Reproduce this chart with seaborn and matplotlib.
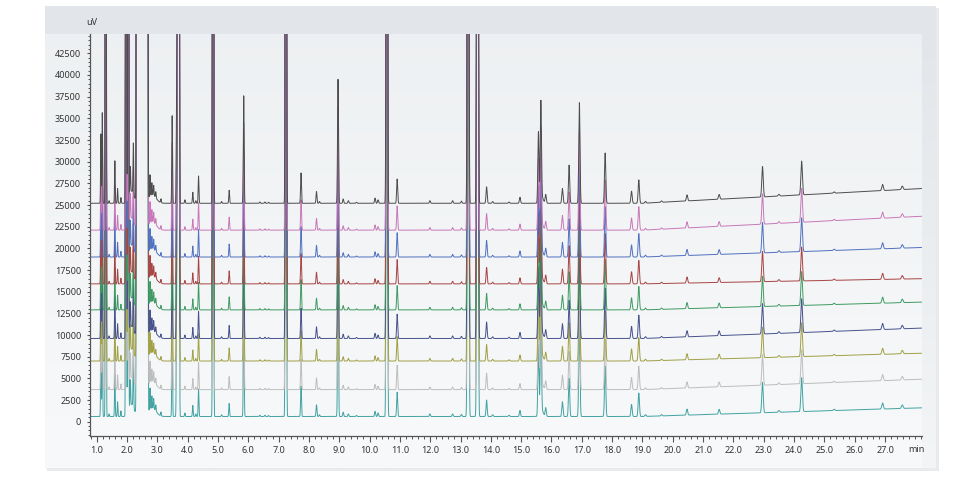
import matplotlib
matplotlib.use('Agg')
import matplotlib.pyplot as plt
import numpy as np
import pandas as pd
import seaborn as sns
from matplotlib.colors import LinearSegmentedColormap
from matplotlib.patches import Rectangle
from matplotlib.ticker import MultipleLocator

# nine overlaid runs, listed from the top trace down
RUN_NAMES = ['run 1', 'run 2', 'run 3', 'run 4', 'run 5', 'run 6', 'run 7', 'run 8', 'run 9']
RUN_COLORS = ['#4d4d4d', '#c878b8', '#5070c0', '#a84444', '#3f9a62',
              '#47528c', '#a0a044', '#bdbdbd', '#42a2a2']
RUN_BASELINES = [25200, 22100, 19000, 15900, 12900, 9600, 7000, 3700, 600]
RUN_DRIFTS = [1700, 1600, 1100, 600, 900, 1200, 900, 1200, 1000]

# sharp peaks (min, uV above baseline); very large values run off the top
PEAK_TIMES = [1.14, 1.185, 1.30, 1.41, 1.60, 1.69, 1.80, 1.97, 2.04, 2.11, 2.21,
              2.33, 2.67, 2.76, 2.82, 2.88, 2.95, 3.12,
              3.49, 3.64, 3.68, 3.71, 3.91, 4.17, 4.27, 4.36, 4.84, 5.12, 5.37,
              5.85, 6.38, 6.55, 6.67, 7.24, 7.74, 8.25, 8.35, 8.96, 9.13, 9.30,
              9.57, 10.18, 10.28, 10.57, 10.91, 11.99, 12.74, 13.03, 13.25, 13.56,
              13.86, 14.06, 14.60, 14.96, 15.57, 15.65, 15.81, 16.36, 16.58, 16.92,
              17.77, 18.64, 18.88, 19.10, 19.63, 20.47, 21.53, 22.96, 23.50, 24.25,
              25.32, 26.92, 27.57]
PEAK_HEIGHTS = [8000, 10500, 200000, 300, 4900, 1700, 650, 200000, 200000, 3000, 5900,
                1000000, 1000000, 2600, 1500, 1200, 700, 450,
                10100, 15500, 200000, 200000, 400, 1270, 300, 3150, 200000, 200, 1500,
                12400, 150, 150, 120, 200000, 3500, 1350, 200, 14300, 500, 300,
                120, 600, 400, 200000, 2800, 300, 300, 250, 200000, 200000,
                1900, 200, 150, 700, 8200, 11300, 1000, 1700, 4400, 11600,
                5800, 1400, 2700, 200, 150, 700, 550, 3500, 200, 3900,
                150, 700, 400]

# broad humps: solvent front (runs off the top) and shoulders
HUMP_TIMES = [2.15, 2.50, 2.85, 15.68]
HUMP_HEIGHTS = [1400, 5000000, 900, 700]
HUMP_WIDTHS = [0.08, 0.05, 0.12, 0.05]

X_TICKS = np.arange(1, 28)
Y_TICKS = np.arange(0, 42501, 2500)


def build_traces():
    t = np.arange(0.78, 28.21, 0.002)
    peaks = np.zeros_like(t)
    for t0, h in zip(PEAK_TIMES, PEAK_HEIGHTS):
        s = 0.010 + 0.0006 * t0
        peaks += h * np.exp(-0.5 * ((t - t0) / s) ** 2)
    for t0, h, s in zip(HUMP_TIMES, HUMP_HEIGHTS, HUMP_WIDTHS):
        peaks += h * np.exp(-0.5 * ((t - t0) / s) ** 2)
    ramp = np.clip((t - 19.0) / (28.2 - 19.0), 0, 1)

    frames = []
    for name, base, drift in zip(RUN_NAMES, RUN_BASELINES, RUN_DRIFTS):
        frames.append(pd.DataFrame({'time': t, 'signal': base + drift * ramp + peaks, 'run': name}))
    return pd.concat(frames, ignore_index=True)


def gradient(ax, extent, top, bottom, zorder):
    cmap = LinearSegmentedColormap.from_list('g', [top, bottom])
    ax.imshow(np.linspace(0, 1, 256).reshape(-1, 1), extent=extent, cmap=cmap,
              aspect='auto', origin='upper', interpolation='bilinear', zorder=zorder)


def main():
    sns.set_theme(style='white')
    plt.rcParams['font.family'] = ['Noto Sans', 'DejaVu Sans']

    fig = plt.figure(figsize=(9.65, 4.92), dpi=100)
    fig.patch.set_facecolor('white')

    # panel behind the chart, drawn in pixel coordinates
    bg = fig.add_axes([0, 0, 1, 1], zorder=0)
    bg.add_patch(Rectangle((47, 8), 892, 463, color='#e9eaeb', lw=0, zorder=0))
    gradient(bg, (45, 936, 468, 6), '#edf0f2', '#f8f9fa', zorder=1)
    bg.add_patch(Rectangle((45, 6), 891, 27.5, color='#e2e6ea', lw=0, zorder=2))
    gradient(bg, (922, 936, 468, 33.5), '#e2e6ea', '#f3f5f6', zorder=2)
    bg.set_xlim(0, 965)
    bg.set_ylim(492, 0)
    bg.axis('off')

    ax = fig.add_axes([90 / 965, 56 / 492, 832 / 965, 402 / 492], zorder=1)
    ax.set_facecolor('none')

    df = build_traces()
    sns.lineplot(data=df, x='time', y='signal', hue='run', hue_order=RUN_NAMES[::-1],
                 palette=RUN_COLORS[::-1], estimator=None, sort=False,
                 linewidth=0.7, legend=False, ax=ax)

    ax.set_xlim(0.78, 28.22)
    ax.set_ylim(-1650, 44730)
    ax.set_xlabel('')
    ax.set_ylabel('')

    ax.set_xticks(X_TICKS)
    ax.set_xticklabels([f'{v:.1f}' for v in X_TICKS])
    ax.xaxis.set_minor_locator(MultipleLocator(0.2))
    ax.set_yticks(Y_TICKS)
    ax.set_yticklabels([f'{v}' for v in Y_TICKS])
    ax.yaxis.set_minor_locator(MultipleLocator(500))

    ax.tick_params(axis='x', which='major', direction='out', length=4, width=0.8,
                   color='#555555', labelsize=6.5, labelcolor='#333333', pad=3.5, bottom=True)
    ax.tick_params(axis='x', which='minor', direction='out', length=2.2, width=0.7,
                   color='#555555', bottom=True)
    ax.tick_params(axis='y', which='major', direction='out', length=2.5, width=0.8,
                   color='#555555', labelsize=6.5, labelcolor='#333333', pad=4, left=True)
    ax.tick_params(axis='y', which='minor', direction='out', length=1.5, width=0.7,
                   color='#555555', left=True)

    sns.despine(ax=ax)
    for side in ['left', 'bottom']:
        ax.spines[side].set_color('#555555')
        ax.spines[side].set_linewidth(0.9)

    fig.text(92 / 965, 1 - 22.5 / 492, 'uV', fontsize=6.5, color='#333333',
             ha='center', va='center')
    fig.text(916.5 / 965, 1 - 450 / 492, 'min', fontsize=6.5, color='#333333',
             ha='center', va='center')

    fig.savefig('out.png', dpi=100)
    plt.close(fig)


if __name__ == '__main__':
    main()
